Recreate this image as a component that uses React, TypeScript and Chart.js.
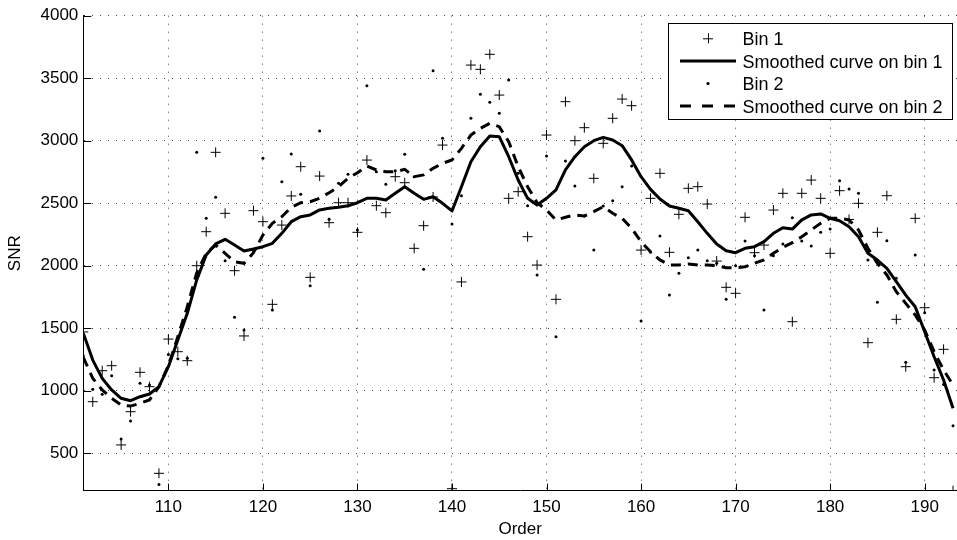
import React, { useEffect, useRef } from "react";
import { Chart, registerables } from "chart.js";

Chart.register(...registerables);

const orders = [
  101, 102, 103, 104, 105, 106, 107, 108, 109, 110,
  111, 112, 113, 114, 115, 116, 117, 118, 119, 120,
  121, 122, 123, 124, 125, 126, 127, 128, 129, 130,
  131, 132, 133, 134, 135, 136, 137, 138, 139, 140,
  141, 142, 143, 144, 145, 146, 147, 148, 149, 150,
  151, 152, 153, 154, 155, 156, 157, 158, 159, 160,
  161, 162, 163, 164, 165, 166, 167, 168, 169, 170,
  171, 172, 173, 174, 175, 176, 177, 178, 179, 180,
  181, 182, 183, 184, 185, 186, 187, 188, 189, 190,
  191, 192, 193,
];

const bin1 = [
  1470, 912, 1160, 1200, 566, 832, 1147, 1032, 339, 1413,
  1312, 1240, 2000, 2272, 2907, 2419, 1960, 1438, 2440, 2352,
  1691, 2325, 2558, 2792, 1907, 2717, 2344, 2504, 2504, 2267,
  2845, 2480, 2424, 2712, 2664, 2139, 2320, 2550, 2965, 216,
  1870, 3605, 3571, 3691, 3365, 2539, 2592, 2232, 2005, 3045,
  1731, 3312, 3000, 3104, 2699, 2979, 3179, 3333, 3280, 2125,
  2539, 2739, 2107, 2411, 2619, 2632, 2493, 2037, 1827, 1779,
  2387, 2104, 2165, 2445, 2579, 1552, 2579, 2685, 2539, 2099,
  2600, 2370, 2499, 1384, 2267, 2560, 1571, 1192, 2379, 1664,
  1104, 1331, 200,
];

const smooth1 = [
  1460, 1245, 1099, 1006, 939, 920, 952, 974, 1032, 1192,
  1406, 1619, 1886, 2086, 2174, 2211, 2165, 2117, 2133, 2152,
  2179, 2259, 2352, 2392, 2406, 2446, 2459, 2467, 2480, 2504,
  2539, 2539, 2526, 2579, 2632, 2579, 2531, 2552, 2499, 2438,
  2632, 2832, 2952, 3038, 3032, 2872, 2686, 2539, 2486, 2539,
  2606, 2766, 2872, 2952, 3000, 3027, 3006, 2960, 2846, 2712,
  2611, 2534, 2478, 2459, 2440, 2352, 2259, 2174, 2120, 2104,
  2139, 2152, 2192, 2259, 2304, 2293, 2366, 2406, 2414, 2379,
  2360, 2312, 2232, 2099, 2045, 1979, 1872, 1765, 1672, 1472,
  1272, 1086, 859,
];

const bin2 = [
  1280, 1011, 971, 1120, 613, 757, 1060, 1045, 250, 1290,
  1255, 1260, 2907, 2379, 2547, 2040, 1587, 1486, 2117, 2859,
  1645, 2672, 2893, 2571, 1840, 3077, 2371, 2659, 2731, 2285,
  3440, 2752, 2651, 2760, 2891, 2712, 1971, 3560, 3019, 2333,
  2560, 3179, 3371, 3307, 3219, 3485, 2739, 2480, 1925, 2877,
  1432, 2837, 2637, 2397, 2125, 2477, 2520, 2632, 2797, 1557,
  2107, 2237, 1765, 1939, 2064, 2125, 2040, 2020, 1731, 2000,
  2197, 2080, 1645, 2080, 2173, 2384, 2197, 2157, 2267, 2293,
  2680, 2613, 2579, 2045, 1707, 2200, 1900, 1227, 2085, 1624,
  1165, 1050, 720,
];

const smooth2 = [
  1267, 1099, 1006, 939, 885, 877, 899, 926, 1032, 1200,
  1432, 1672, 1944, 2099, 2165, 2099, 2032, 2019, 2104, 2245,
  2339, 2392, 2467, 2504, 2512, 2539, 2584, 2632, 2699, 2744,
  2797, 2766, 2752, 2752, 2771, 2712, 2726, 2779, 2819, 2846,
  2939, 3045, 3099, 3139, 3112, 2992, 2792, 2632, 2504, 2446,
  2366, 2387, 2406, 2398, 2432, 2472, 2419, 2379, 2299, 2192,
  2112, 2046, 2006, 2006, 2014, 2006, 2006, 2000, 1984, 1984,
  1992, 2019, 2046, 2099, 2147, 2184, 2232, 2286, 2339, 2379,
  2379, 2366, 2286, 2139, 2019, 1926, 1792, 1699, 1606, 1486,
  1312, 1166, 1046,
];

const xTicks = [110, 120, 130, 140, 150, 160, 170, 180, 190];
const yTicks = [500, 1000, 1500, 2000, 2500, 3000, 3500, 4000];
const seriesLabels = [
  "Bin 1",
  "Smoothed curve on bin 1",
  "Bin 2",
  "Smoothed curve on bin 2",
];
const xTitle = "Order";
const yTitle = "SNR";

const FONT = '"Liberation Sans", Arial, Helvetica, sans-serif';

const toPoints = (ys: number[]) => orders.map((x, i) => ({ x, y: ys[i] }));

const innerTicks = {
  id: "innerTicks",
  afterDatasetsDraw(chart: any) {
    const { ctx, chartArea, scales } = chart;
    ctx.save();
    ctx.strokeStyle = "#000";
    ctx.lineWidth = 1;
    ctx.beginPath();
    yTicks.forEach((v) => {
      const y = Math.round(scales.y.getPixelForValue(v)) + 0.5;
      ctx.moveTo(chartArea.left, y);
      ctx.lineTo(chartArea.left + 8, y);
    });
    xTicks.forEach((v) => {
      const x = Math.round(scales.x.getPixelForValue(v)) + 0.5;
      ctx.moveTo(x, chartArea.bottom);
      ctx.lineTo(x, chartArea.bottom - 7);
    });
    ctx.stroke();
    ctx.restore();
  },
};

const boxLegend = {
  id: "boxLegend",
  afterDraw(chart: any) {
    const { ctx } = chart;
    const x0 = 668.5;
    const y0 = 23.5;
    const w = 284;
    const h = 96;
    ctx.save();
    ctx.fillStyle = "#fff";
    ctx.fillRect(x0, y0, w, h);
    ctx.strokeStyle = "#000";
    ctx.lineWidth = 1;
    ctx.strokeRect(x0, y0, w, h);
    const symY = [38.3, 61, 83.5, 106];
    const baseY = [45, 67.7, 90.2, 112.8];
    const sx0 = 680;
    const sx1 = 736;
    const sxc = 708;
    chart.data.datasets.forEach((ds: any, i: number) => {
      const y = symY[i];
      ctx.save();
      ctx.strokeStyle = "#000";
      ctx.fillStyle = "#000";
      if (i === 0) {
        ctx.lineWidth = 1;
        ctx.beginPath();
        ctx.moveTo(sxc - 5, y + 0.5);
        ctx.lineTo(sxc + 5, y + 0.5);
        ctx.moveTo(sxc + 0.5, y - 5);
        ctx.lineTo(sxc + 0.5, y + 5);
        ctx.stroke();
      } else if (i === 2) {
        ctx.beginPath();
        ctx.arc(sxc, y, 1.6, 0, Math.PI * 2);
        ctx.fill();
      } else {
        ctx.lineWidth = 3;
        ctx.setLineDash(i === 3 ? [11, 11] : []);
        ctx.beginPath();
        ctx.moveTo(sx0, y);
        ctx.lineTo(sx1, y);
        ctx.stroke();
      }
      ctx.restore();
      ctx.fillStyle = "#000";
      ctx.font = `18px ${FONT}`;
      ctx.textBaseline = "alphabetic";
      ctx.textAlign = "left";
      ctx.fillText(ds.label, 742.5, baseY[i]);
    });
    ctx.restore();
  },
};

export default function App() {
  const ref = useRef<HTMLCanvasElement | null>(null);

  useEffect(() => {
    if (!ref.current) return;
    Chart.defaults.color = "#000";
    Chart.defaults.font.family = FONT;
    const chart = new Chart(ref.current, {
      type: "scatter",
      data: {
        datasets: [
          {
            label: seriesLabels[0],
            data: toPoints(bin1),
            showLine: false,
            pointStyle: "cross",
            pointRadius: 5,
            pointBorderWidth: 1,
            borderColor: "#000",
            backgroundColor: "#000",
          },
          {
            label: seriesLabels[1],
            data: toPoints(smooth1),
            showLine: true,
            pointRadius: 0,
            borderWidth: 3,
            borderColor: "#000",
            tension: 0,
            borderJoinStyle: "round",
          },
          {
            label: seriesLabels[2],
            data: toPoints(bin2),
            showLine: false,
            pointStyle: "circle",
            pointRadius: 1.5,
            pointBorderWidth: 0,
            borderColor: "#000",
            backgroundColor: "#000",
          },
          {
            label: seriesLabels[3],
            data: toPoints(smooth2),
            showLine: true,
            pointRadius: 0,
            borderWidth: 3,
            borderColor: "#000",
            borderDash: [10, 7],
            tension: 0,
          },
        ],
      },
      options: {
        responsive: false,
        animation: false,
        events: [],
        layout: { autoPadding: false, padding: { top: 15.7, right: 0, bottom: 0, left: 0 } },
        plugins: {
          legend: { display: false },
          tooltip: { enabled: false },
        },
        scales: {
          x: {
            type: "linear",
            min: 101,
            max: 193.42,
            afterBuildTicks: (scale: any) => {
              scale.ticks = xTicks.map((v) => ({ value: v }));
            },
            afterFit: (scale: any) => {
              scale.height = 49.3;
              scale.paddingLeft = 0;
              scale.paddingRight = 0;
            },
            ticks: {
              font: { size: 17, family: FONT },
              color: "#000",
              padding: 6,
              maxRotation: 0,
              autoSkip: false,
              callback: (v: any) => String(v),
            },
            grid: {
              color: "rgba(0,0,0,0.75)",
              lineWidth: 1,
              drawTicks: false,
            },
            border: { display: true, color: "#000", width: 1, dash: [1, 7] },
            title: {
              display: true,
              text: xTitle,
              font: { size: 17, family: FONT },
              color: "#000",
              padding: { top: 0, bottom: 0 },
            },
          },
          y: {
            type: "linear",
            min: 200,
            max: 4000,
            afterBuildTicks: (scale: any) => {
              scale.ticks = yTicks.map((v) => ({ value: v }));
            },
            afterFit: (scale: any) => {
              scale.width = 83.3;
              scale.paddingTop = 0;
              scale.paddingBottom = 0;
            },
            ticks: {
              font: { size: 17, family: FONT },
              color: "#000",
              padding: 5,
              autoSkip: false,
              callback: (v: any) => String(v),
            },
            grid: {
              color: "rgba(0,0,0,0.75)",
              lineWidth: 1,
              drawTicks: false,
            },
            border: { display: true, color: "#000", width: 1, dash: [1, 7] },
            title: {
              display: true,
              text: yTitle,
              font: { size: 17, family: FONT },
              color: "#000",
              padding: { top: 5, bottom: 0 },
            },
          },
        },
      },
      plugins: [innerTicks, boxLegend],
    } as any);
    return () => chart.destroy();
  }, []);

  return (
    <div style={{ position: "fixed", left: 0, top: 0, width: 957, height: 540, background: "#fff" }}>
      <canvas ref={ref} width={957} height={540} style={{ display: "block" }} />
    </div>
  );
}
